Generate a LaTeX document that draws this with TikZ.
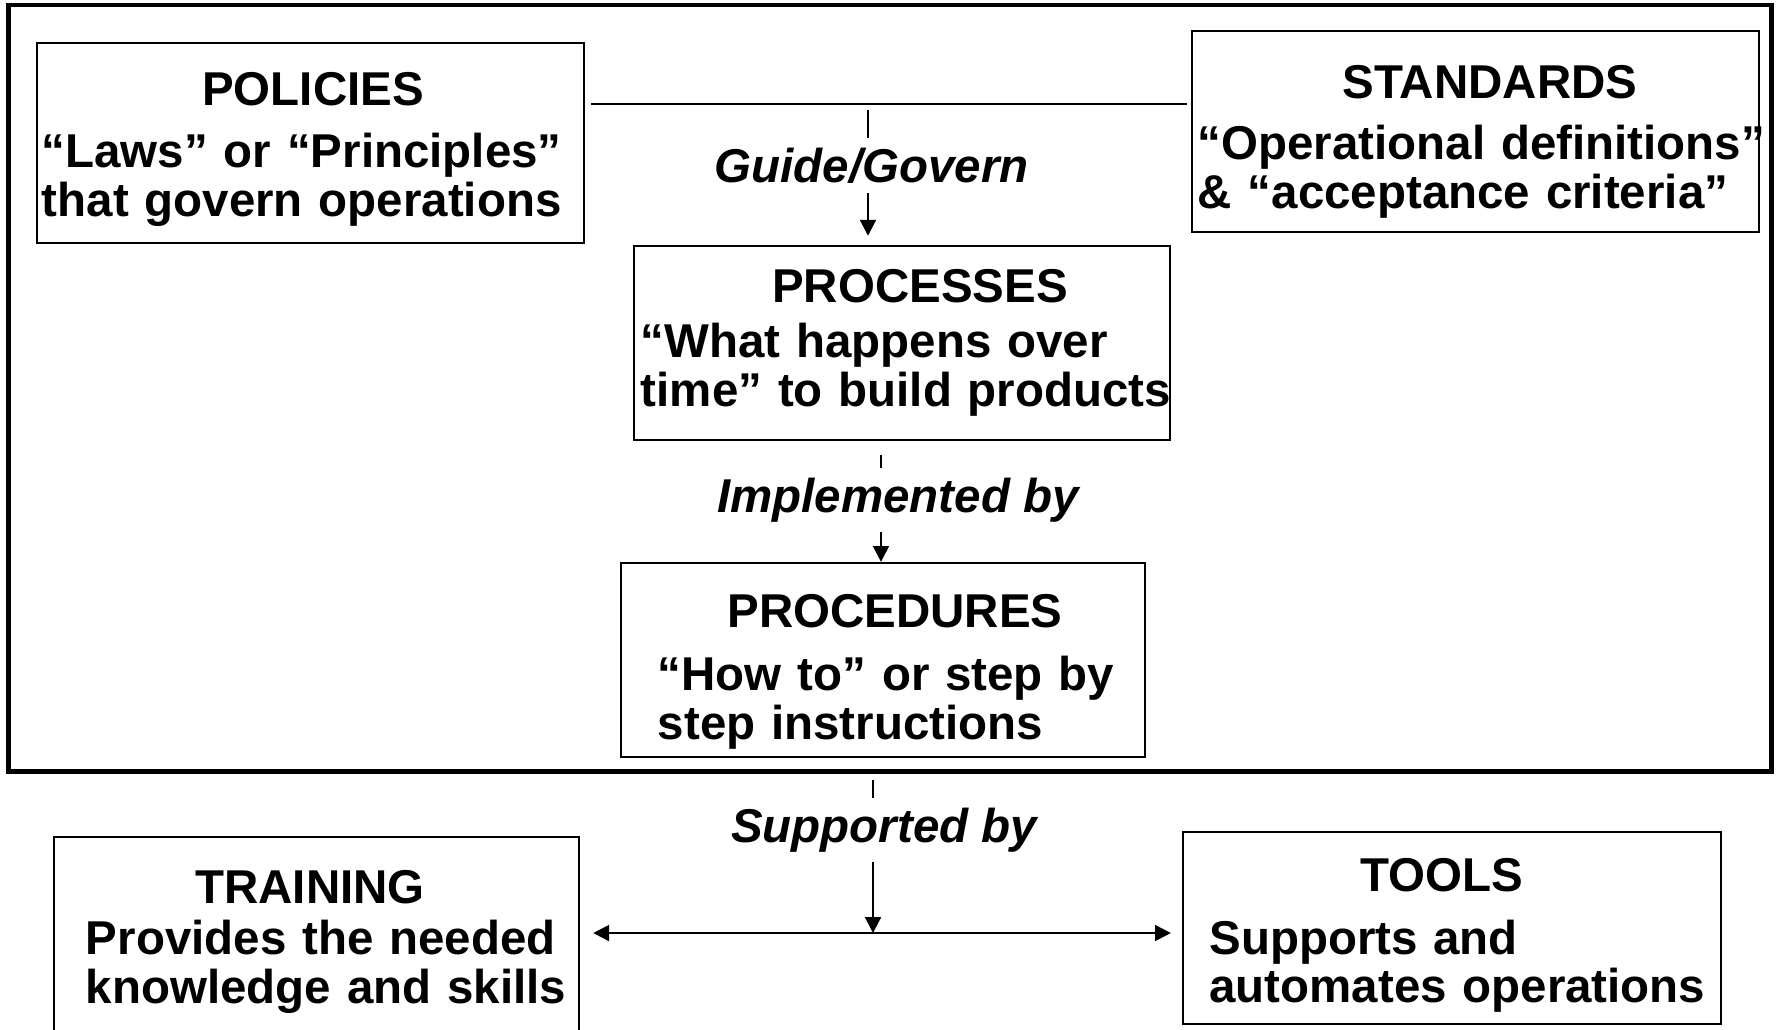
\documentclass[tikz,border=0pt]{standalone}
\usepackage{fontspec}
\setmainfont{Liberation Sans}
\usetikzlibrary{arrows.meta}

% heading line centred over the box text, with optional sideways shift
\newcommand{\boxhead}[2][0cm]{\makebox[\linewidth]{\hspace*{#1}#2}}

\begin{document}
\begin{tikzpicture}[
  x=0.01cm, y=-0.01cm,
  blk/.style={rectangle, draw, line width=0.6pt, inner ysep=0pt, align=left,
              font=\bfseries\fontsize{13.5}{13.9}\selectfont},
  frame/.style={rectangle, draw, line width=1.3pt, inner sep=0pt},
  lbl/.style={inner sep=2.6pt, font=\bfseries\itshape\fontsize{13.5}{13.9}\selectfont},
  ln/.style={line width=0.6pt},
  a/.style={line width=0.6pt, -{Triangle[length=4.5pt, width=4.5pt]}},
  aa/.style={line width=0.6pt, {Triangle[length=4.5pt, width=4.5pt]}-{Triangle[length=4.5pt, width=4.5pt]}},
]
  \useasboundingbox (0,0) rectangle (1779,1029);
  \clip (0,0) rectangle (1779,1029);

  \node[frame, minimum width=17.62cm, minimum height=7.66cm] (frame) at (890,388) {};

  \node[blk, minimum width=5.47cm, minimum height=2.00cm, text width=5.37cm, inner xsep=.05cm]
    (policies) at (310.5,143)
    {\rule{0pt}{13.2pt}\boxhead[0.05cm]{POLICIES}\\[3.8pt]
     “Laws” or “Principles”\\ that govern operations};
  \node[blk, minimum width=5.67cm, minimum height=2.01cm, text width=5.55cm, inner xsep=.06cm]
    (standards) at (1475.5,131.5)
    {\rule{0pt}{15.5pt}\boxhead[0.29cm]{STANDARDS}\\[3.4pt]
     \mbox{“Operational definitions”}\\ \& “acceptance criteria”};
  \node[blk, minimum width=5.36cm, minimum height=1.94cm, text width=5.22cm, inner xsep=.07cm]
    (processes) at (902,343)
    {\boxhead[0.36cm]{PROCESSES}\\[1.7pt]
     “What happens over\\ \mbox{time” to build products}};
  \node[blk, minimum width=5.24cm, minimum height=1.94cm, text width=4.50cm, inner xsep=.37cm]
    (procedures) at (883,660)
    {\rule{0pt}{16.1pt}\boxhead[0.24cm]{PROCEDURES}\\[4pt]
     \mbox{“How to” or step by}\\ step instructions};
  \node[blk, minimum width=5.25cm, minimum height=2.00cm, text width=4.61cm, inner xsep=.32cm]
    (training) at (316.5,937)
    {\rule{0pt}{12.1pt}\boxhead[-0.13cm]{TRAINING}\\[0.6pt]
     \mbox{Provides the needed}\\ \mbox{knowledge and skills}};
  \node[blk, minimum width=5.38cm, minimum height=1.92cm, text width=4.85cm, inner xsep=.265cm]
    (tools) at (1452,928)
    {\rule{0pt}{13.8pt}\boxhead[-0.2cm]{TOOLS}\\[3.8pt]
     Supports and\\ \mbox{automates operations}};

  \node[lbl, anchor=base] (guide) at (871.5,182) {Guide/Govern};
  \node[lbl, anchor=base] (implemented) at (898,512) {Implemented by};
  \node[lbl, anchor=base] (supported) at (884,842) {Supported by};

  \coordinate (hline) at (868,104);
  \coordinate (hub) at (873,933);

  \draw[line width=0.8pt, shorten <=1.7pt, shorten >=1.1pt]
    (policies.east |- hline) -- (standards.west |- hline);
  \draw[ln, shorten <=1.7pt] (hline) -- (hline |- guide.north);
  \draw[a, shorten >=2.6pt] (hline |- guide.south) -- (hline |- processes.north);

  \draw[ln, shorten <=4pt] ([xshift=-.17cm]implemented.north |- processes.south)
    -- ([xshift=-.17cm]implemented.north);
  \draw[a] ([xshift=-.17cm]implemented.south) -- ([xshift=-.17cm]implemented.south |- procedures.north);

  \draw[ln, shorten <=1.7pt] (hub |- frame.south) -- (hub |- supported.north);
  \draw[a] (hub |- supported.south) -- (hub);
  \draw[aa, shorten <=3.7pt, shorten >=3.1pt] (training.east |- hub) -- (tools.west |- hub);
\end{tikzpicture}
\end{document}
